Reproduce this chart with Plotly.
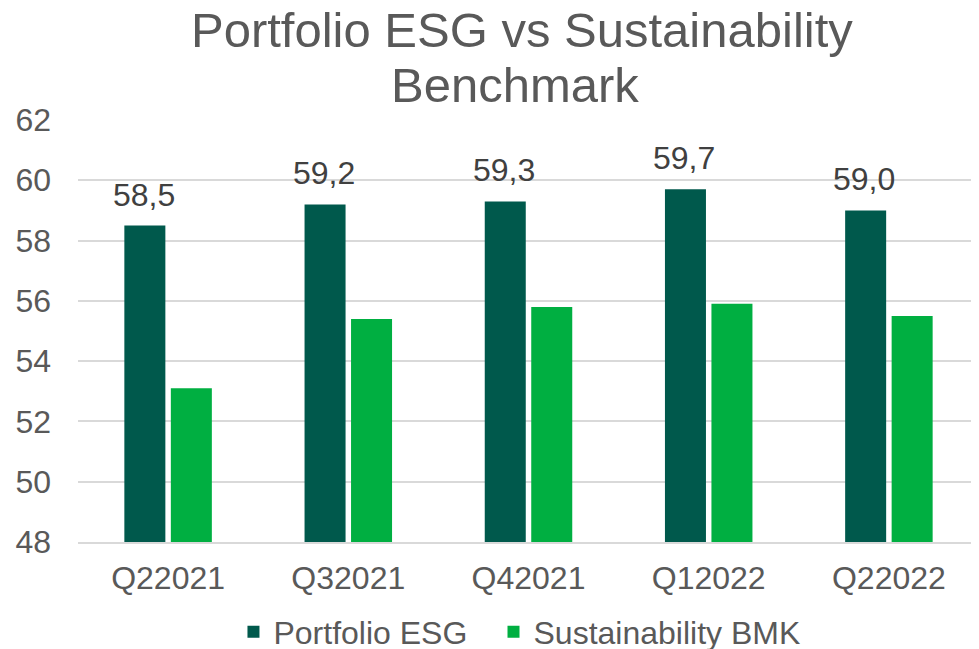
import plotly.graph_objects as go

categories = ["Q22021", "Q32021", "Q42021", "Q12022", "Q22022"]
portfolio_esg = [58.5, 59.2, 59.3, 59.7, 59.0]
sustainability_bmk = [53.1, 55.4, 55.8, 55.9, 55.5]
y_ticks = [48, 50, 52, 54, 56, 58, 60, 62]
title_lines = ["Portfolio ESG vs Sustainability", "Benchmark"]

FONT = "Liberation Sans, Arial, sans-serif"
GREY = "#595959"
DARK = "#00594C"
BRIGHT = "#00AF41"

fig = go.Figure()
fig.add_trace(go.Bar(
    x=categories, y=portfolio_esg, name="Portfolio ESG",
    marker=dict(color=DARK, line=dict(width=0)), legend="legend",
))
fig.add_trace(go.Bar(
    x=categories, y=sustainability_bmk, name="Sustainability BMK",
    marker=dict(color=BRIGHT, line=dict(width=0)), legend="legend2",
))

# data labels for Portfolio ESG (comma decimal)
for c, v in zip(categories, portfolio_esg):
    fig.add_annotation(
        x=c, y=v, xref="x", yref="y", text=f"{v:.1f}".replace(".", ","),
        showarrow=False, xanchor="center", yanchor="bottom",
        xshift=-24.5, yshift=11,
        font=dict(family=FONT, size=32, color="#404040"),
    )

# two-line title
for txt, xx, yy in zip(title_lines, [0.493, 0.485], [1.214, 1.082]):
    fig.add_annotation(
        x=xx, y=yy, xref="paper", yref="paper", text=txt,
        showarrow=False, xanchor="center", yanchor="middle",
        font=dict(family=FONT, size=49, color=GREY),
    )

legend_common = dict(orientation="h", xanchor="left", xref="container",
                     yref="container", y=0.0265, yanchor="middle",
                     font=dict(family=FONT, size=32, color=GREY),
                     itemwidth=30, bgcolor="rgba(0,0,0,0)")

fig.update_layout(
    width=971, height=641,
    paper_bgcolor="white", plot_bgcolor="white",
    separators=",.",
    barmode="group", bargap=0.484, bargroupgap=0.118,
    margin=dict(l=70, r=0, t=112, b=107, autoexpand=False),
    font=dict(family=FONT, color=GREY),
    legend=dict(x=0.2322, **legend_common),
    legend2=dict(x=0.500, **legend_common),
    showlegend=True,
)
fig.update_yaxes(range=[48, 62], tickvals=y_ticks, showgrid=True, gridcolor="#D9D9D9",
                 gridwidth=1.5, zeroline=False, showline=False, automargin=False,
                 tickfont=dict(family=FONT, size=32, color=GREY), ticks="", ticklabelstandoff=26)
fig.update_xaxes(showgrid=False, showline=True, linecolor="#D9D9D9", linewidth=1.5,
                 automargin=False,
                 tickfont=dict(family=FONT, size=32, color=GREY), ticks="", ticklabelstandoff=7)

fig.write_html("out.html")
